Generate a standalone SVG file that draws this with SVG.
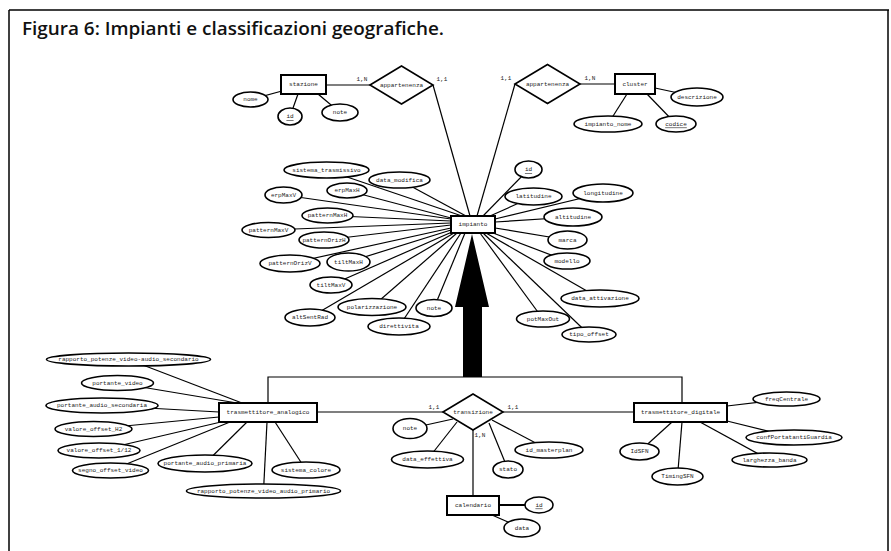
<svg xmlns="http://www.w3.org/2000/svg" width="891" height="551" viewBox="0 0 891 551">
<style>
.t{font-family:"Liberation Mono","DejaVu Sans Mono",monospace;font-size:6px;text-anchor:middle;dominant-baseline:central;fill:#222}
.u{text-decoration:underline}
.e{fill:#fff;stroke:#000;stroke-width:1.6}
.r{fill:#fff;stroke:#000;stroke-width:2}
.d{fill:#fff;stroke:#000;stroke-width:1.6}
.c line,.c polyline{stroke:#000;stroke-width:1.2;fill:none}
.k{font-family:"Liberation Mono","DejaVu Sans Mono",monospace;font-size:6px;text-anchor:middle;fill:#222}
.title{font-family:"Open Sans","Liberation Sans",sans-serif;font-size:18px;font-weight:600;fill:#111}
</style>
<rect width="891" height="551" fill="#fff"/>
<g id="frame" fill="none" stroke="#000" stroke-width="1.5">
<line x1="9" y1="10" x2="889" y2="10"/>
<line x1="9" y1="10" x2="9" y2="551"/>
<line x1="888" y1="10" x2="888" y2="551"/>
</g>
<text class="title" x="22" y="35" textLength="422" lengthAdjust="spacingAndGlyphs">Figura 6: Impianti e classificazioni geografiche.</text>

<g id="connectors" class="c">
<line x1="250.5" y1="99.5" x2="282" y2="91"/>
<line x1="290" y1="116.5" x2="298" y2="94"/>
<line x1="340" y1="112.5" x2="318" y2="94"/>
<line x1="326" y1="85" x2="370" y2="85"/>
<line x1="433" y1="85" x2="470" y2="216"/>
<line x1="515" y1="84" x2="477" y2="216"/>
<line x1="580" y1="84" x2="615" y2="84"/>
<line x1="697" y1="97" x2="655" y2="88"/>
<line x1="608" y1="124" x2="627" y2="94"/>
<line x1="676" y1="124" x2="647" y2="94"/>
<line x1="528.5" y1="169.5" x2="483" y2="216"/>
<line x1="533.5" y1="196.5" x2="490" y2="216"/>
<line x1="603" y1="193" x2="495" y2="219"/>
<line x1="573" y1="217" x2="495" y2="222"/>
<line x1="567.5" y1="240" x2="495" y2="228"/>
<line x1="567" y1="261" x2="493" y2="233"/>
<line x1="600" y1="298.5" x2="486" y2="233"/>
<line x1="543" y1="319" x2="480" y2="233"/>
<line x1="589" y1="334.5" x2="483" y2="233"/>
<line x1="326.5" y1="170" x2="462" y2="216"/>
<line x1="399.5" y1="180" x2="466" y2="216"/>
<line x1="347" y1="190.5" x2="451" y2="218"/>
<line x1="283.5" y1="195" x2="451" y2="219"/>
<line x1="327.5" y1="215.5" x2="451" y2="221"/>
<line x1="268.5" y1="230" x2="451" y2="223"/>
<line x1="324" y1="240" x2="451" y2="225"/>
<line x1="290" y1="263.5" x2="451" y2="228"/>
<line x1="348.5" y1="262" x2="451" y2="230"/>
<line x1="331" y1="285" x2="452" y2="232"/>
<line x1="310" y1="317.5" x2="454" y2="233"/>
<line x1="372" y1="307" x2="457" y2="233"/>
<line x1="399" y1="326.5" x2="461" y2="233"/>
<line x1="434" y1="308" x2="465" y2="233"/>
<polyline points="268,403 268,377 682,377 682,403"/>
<line x1="317" y1="412" x2="443" y2="412"/>
<line x1="503" y1="412" x2="634" y2="412"/>
<line x1="473" y1="430" x2="473" y2="496"/>
<line x1="410" y1="428.5" x2="453" y2="419"/>
<line x1="427.5" y1="459.5" x2="457" y2="422"/>
<line x1="508" y1="469.5" x2="489" y2="423"/>
<line x1="549" y1="450" x2="492" y2="420"/>
<line x1="499" y1="505" x2="539" y2="505" style="stroke-width:2"/>
<line x1="492" y1="515" x2="522" y2="528"/>
<line x1="128.5" y1="359.5" x2="242" y2="403"/>
<line x1="117.5" y1="383" x2="237" y2="403"/>
<line x1="102" y1="405.5" x2="219" y2="412"/>
<line x1="93.5" y1="429" x2="219" y2="417"/>
<line x1="99" y1="450.5" x2="221" y2="422"/>
<line x1="110.5" y1="470.5" x2="230" y2="422"/>
<line x1="205" y1="463.5" x2="247" y2="422"/>
<line x1="263.5" y1="491" x2="267" y2="422"/>
<line x1="306" y1="470" x2="275" y2="422"/>
<line x1="786.5" y1="399" x2="727" y2="406"/>
<line x1="794" y1="437.5" x2="727" y2="421"/>
<line x1="769.5" y1="460" x2="700" y2="422"/>
<line x1="639.5" y1="451.5" x2="672" y2="422"/>
<line x1="677.5" y1="476.5" x2="682" y2="422"/>
</g>

<g id="isa-arrow">
<polygon points="463,377 482,377 482,307 489,307 472,234 455,307 463,307" fill="#000"/>
</g>

<g id="cardinalities">
<text class="k" x="362" y="81">1,N</text>
<text class="k" x="442" y="81">1,1</text>
<text class="k" x="506" y="80">1,1</text>
<text class="k" x="590" y="80">1,N</text>
<text class="k" x="434" y="409">1,1</text>
<text class="k" x="513" y="409">1,1</text>
<text class="k" x="480" y="437">1,N</text>
</g>

<g id="stazione"><rect class="r" x="281" y="75" width="45" height="19"/><text class="t" x="303.5" y="84.5">stazione</text></g>
<g id="stazione-nome"><ellipse class="e" cx="250.5" cy="99.5" rx="17.5" ry="7.5"/><text class="t" x="250.5" y="99.5">nome</text></g>
<g id="stazione-id"><ellipse class="e" cx="290" cy="116.5" rx="12" ry="8.5"/><text class="t u" x="290" y="116.5">id</text></g>
<g id="stazione-note"><ellipse class="e" cx="340" cy="112.5" rx="18" ry="8.5"/><text class="t" x="340" y="112.5">note</text></g>
<g id="appartenenza1"><polygon class="d" points="370,85 401.5,66 433,85 401.5,104"/><text class="t" x="401.5" y="85">appartenenza</text></g>

<g id="appartenenza2"><polygon class="d" points="515,84 547.5,64.5 580,84 547.5,103.5"/><text class="t" x="547.5" y="84">appartenenza</text></g>
<g id="cluster"><rect class="r" x="615" y="74" width="40" height="20"/><text class="t" x="635" y="84">cluster</text></g>
<g id="cluster-descrizione"><ellipse class="e" cx="697" cy="97" rx="26" ry="9"/><text class="t" x="697" y="97">descrizione</text></g>
<g id="cluster-impianto_nome"><ellipse class="e" cx="608" cy="124" rx="34" ry="8"/><text class="t" x="608" y="124">impianto_nome</text></g>
<g id="cluster-codice"><ellipse class="e" cx="676" cy="124" rx="20" ry="8"/><text class="t u" x="676" y="124">codice</text></g>

<g id="impianto"><rect class="r" x="451" y="216" width="44" height="17"/><text class="t" x="473" y="224.5">impianto</text></g>
<g id="imp-id"><ellipse class="e" cx="528.5" cy="169.5" rx="13.5" ry="8.5"/><text class="t u" x="528.5" y="169.5">id</text></g>
<g id="imp-latitudine"><ellipse class="e" cx="533.5" cy="196.5" rx="28.5" ry="8.5"/><text class="t" x="533.5" y="196.5">latitudine</text></g>
<g id="imp-longitudine"><ellipse class="e" cx="603" cy="193" rx="30" ry="9"/><text class="t" x="603" y="193">longitudine</text></g>
<g id="imp-altitudine"><ellipse class="e" cx="573" cy="217" rx="29" ry="9"/><text class="t" x="573" y="217">altitudine</text></g>
<g id="imp-marca"><ellipse class="e" cx="567.5" cy="240" rx="19.5" ry="9"/><text class="t" x="567.5" y="240">marca</text></g>
<g id="imp-modello"><ellipse class="e" cx="567" cy="261" rx="23" ry="8"/><text class="t" x="567" y="261">modello</text></g>
<g id="imp-data_attivazione"><ellipse class="e" cx="600" cy="298.5" rx="39" ry="8.5"/><text class="t" x="600" y="298.5">data_attivazione</text></g>
<g id="imp-potMaxOut"><ellipse class="e" cx="543" cy="319" rx="26.5" ry="8"/><text class="t" x="543" y="319">potMaxOut</text></g>
<g id="imp-tipo_offset"><ellipse class="e" cx="589" cy="334.5" rx="27" ry="7.5"/><text class="t" x="589" y="334.5">tipo_offset</text></g>
<g id="imp-sistema_trasmissivo"><ellipse class="e" cx="326.5" cy="170" rx="42.5" ry="8"/><text class="t" x="326.5" y="170">sistema_trasmissivo</text></g>
<g id="imp-data_modifica"><ellipse class="e" cx="399.5" cy="180" rx="30.5" ry="8"/><text class="t" x="399.5" y="180">data_modifica</text></g>
<g id="imp-erpMaxH"><ellipse class="e" cx="347" cy="190.5" rx="20" ry="7.5"/><text class="t" x="347" y="190.5">erpMaxH</text></g>
<g id="imp-erpMaxV"><ellipse class="e" cx="283.5" cy="195" rx="18.5" ry="8"/><text class="t" x="283.5" y="195">erpMaxV</text></g>
<g id="imp-patternMaxH"><ellipse class="e" cx="327.5" cy="215.5" rx="25.5" ry="7.5"/><text class="t" x="327.5" y="215.5">patternMaxH</text></g>
<g id="imp-patternMaxV"><ellipse class="e" cx="268.5" cy="230" rx="26.5" ry="7.5"/><text class="t" x="268.5" y="230">patternMaxV</text></g>
<g id="imp-patternOrizH"><ellipse class="e" cx="324" cy="240" rx="25" ry="8"/><text class="t" x="324" y="240">patternOrizH</text></g>
<g id="imp-patternOrizV"><ellipse class="e" cx="290" cy="263.5" rx="30" ry="8.5"/><text class="t" x="290" y="263.5">patternOrizV</text></g>
<g id="imp-tiltMaxH"><ellipse class="e" cx="348.5" cy="262" rx="21.5" ry="9"/><text class="t" x="348.5" y="262">tiltMaxH</text></g>
<g id="imp-tiltMaxV"><ellipse class="e" cx="331" cy="285" rx="21" ry="8"/><text class="t" x="331" y="285">tiltMaxV</text></g>
<g id="imp-polarizzazione"><ellipse class="e" cx="372" cy="307" rx="34" ry="8.5"/><text class="t" x="372" y="307">polarizzazione</text></g>
<g id="imp-altSentRad"><ellipse class="e" cx="310" cy="317.5" rx="25" ry="8.5"/><text class="t" x="310" y="317.5">altSentRad</text></g>
<g id="imp-direttivita"><ellipse class="e" cx="399" cy="326.5" rx="31" ry="8.5"/><text class="t" x="399" y="326.5">direttivita</text></g>
<g id="imp-note"><ellipse class="e" cx="434" cy="308" rx="18" ry="8.5"/><text class="t" x="434" y="308">note</text></g>

<g id="trasmettitore_analogico"><rect class="r" x="219" y="403" width="98" height="19"/><text class="t" x="268" y="412.5">trasmettitore_analogico</text></g>
<g id="an-rapporto_sec"><ellipse class="e" cx="128.5" cy="359.5" rx="82" ry="6.5"/><text class="t" x="128.5" y="359.5">rapporto_potenze_video-audio_secondario</text></g>
<g id="an-portante_video"><ellipse class="e" cx="117.5" cy="383" rx="36" ry="7.5"/><text class="t" x="117.5" y="383">portante_video</text></g>
<g id="an-portante_audio_secondaria"><ellipse class="e" cx="102" cy="405.5" rx="56" ry="7.5"/><text class="t" x="102" y="405.5">portante_audio_secondaria</text></g>
<g id="an-valore_offset_H2"><ellipse class="e" cx="93.5" cy="429" rx="38.5" ry="7.5"/><text class="t" x="93.5" y="429">valore_offset_H2</text></g>
<g id="an-valore_offset_1_12"><ellipse class="e" cx="99" cy="450.5" rx="41" ry="7.5"/><text class="t" x="99" y="450.5">valore_offset_1/12</text></g>
<g id="an-segno_offset_video"><ellipse class="e" cx="110.5" cy="470.5" rx="38" ry="7.5"/><text class="t" x="110.5" y="470.5">segno_offset_video</text></g>
<g id="an-portante_audio_primaria"><ellipse class="e" cx="205" cy="463.5" rx="47" ry="8.5"/><text class="t" x="205" y="463.5">portante_audio_primaria</text></g>
<g id="an-sistema_colore"><ellipse class="e" cx="306" cy="470" rx="34" ry="8"/><text class="t" x="306" y="470">sistema_colore</text></g>
<g id="an-rapporto_pri"><ellipse class="e" cx="263.5" cy="491" rx="77" ry="7"/><text class="t" x="263.5" y="491">rapporto_potenze_video_audio_primario</text></g>

<g id="transizione"><polygon class="d" points="443,412 473,394 503,412 473,430"/><text class="t" x="473" y="412">transizione</text></g>
<g id="tr-note"><ellipse class="e" cx="410" cy="428.5" rx="17" ry="10"/><text class="t" x="410" y="428.5">note</text></g>
<g id="tr-data_effettiva"><ellipse class="e" cx="427.5" cy="459.5" rx="36" ry="8.5"/><text class="t" x="427.5" y="459.5">data_effettiva</text></g>
<g id="tr-stato"><ellipse class="e" cx="508" cy="469.5" rx="15" ry="8.5"/><text class="t" x="508" y="469.5">stato</text></g>
<g id="tr-id_masterplan"><ellipse class="e" cx="549" cy="450" rx="34" ry="8"/><text class="t" x="549" y="450">id_masterplan</text></g>

<g id="calendario"><rect class="r" x="447" y="496" width="52" height="19"/><text class="t" x="473" y="505.5">calendario</text></g>
<g id="cal-id"><ellipse class="e" cx="539" cy="505" rx="14" ry="8"/><text class="t u" x="539" y="505">id</text></g>
<g id="cal-data"><ellipse class="e" cx="522" cy="528" rx="18" ry="9"/><text class="t" x="522" y="528">data</text></g>

<g id="trasmettitore_digitale"><rect class="r" x="634" y="403" width="93" height="19"/><text class="t" x="680.5" y="412.5">trasmettitore_digitale</text></g>
<g id="dg-freqCentrale"><ellipse class="e" cx="786.5" cy="399" rx="33.5" ry="7"/><text class="t" x="786.5" y="399">freqCentrale</text></g>
<g id="dg-confPortatantiGuardia"><ellipse class="e" cx="794" cy="437.5" rx="48" ry="7.5"/><text class="t" x="794" y="437.5">confPortatantiGuardia</text></g>
<g id="dg-larghezza_banda"><ellipse class="e" cx="769.5" cy="460" rx="37.5" ry="7"/><text class="t" x="769.5" y="460">larghezza_banda</text></g>
<g id="dg-IdSFN"><ellipse class="e" cx="639.5" cy="451.5" rx="19.5" ry="8.5"/><text class="t" x="639.5" y="451.5">IdSFN</text></g>
<g id="dg-TimingSFN"><ellipse class="e" cx="677.5" cy="476.5" rx="25.5" ry="8.5"/><text class="t" x="677.5" y="476.5">TimingSFN</text></g>
</svg>
